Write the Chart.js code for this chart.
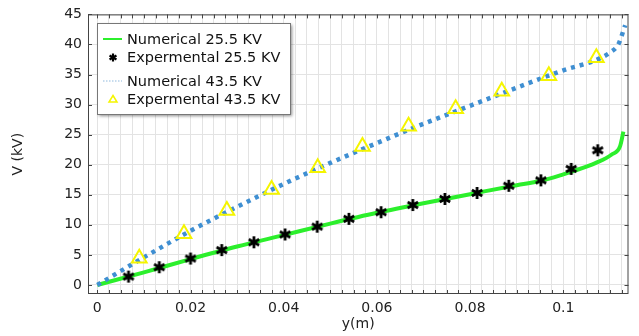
<!DOCTYPE html>
<html>
<head>
<meta charset="utf-8">
<script src="https://cdn.jsdelivr.net/npm/chart.js@4.4.1/dist/chart.umd.min.js"></script>
<style>
html,body{margin:0;padding:0;background:#fff;}
#wrap{position:relative;width:639px;height:336px;}
</style>
</head>
<body>
<div id="wrap"><canvas id="c" width="639" height="336"></canvas></div>
<script>
// Numerical 25.5 KV (curve)
const numY25 = [0, 0.01, 0.02, 0.03, 0.04, 0.05, 0.06, 0.07, 0.08, 0.09, 0.095, 0.1, 0.102, 0.107, 0.1104, 0.1122, 0.1129];
const numV25 = [0, 2.1, 4.3, 6.4, 8.3, 10.2, 12.0, 13.6, 15.1, 16.6, 17.3, 18.4, 18.9, 20.3, 21.7, 23.1, 25.5];
// Experimental 25.5 KV
const expY25 = [0.0067, 0.0133, 0.02, 0.0267, 0.0336, 0.0403, 0.0472, 0.054, 0.0609, 0.0677, 0.0746, 0.0815, 0.0883, 0.0952, 0.1017, 0.1074];
const expV25 = [1.4, 2.95, 4.4, 5.8, 7.1, 8.4, 9.7, 11.0, 12.1, 13.3, 14.3, 15.3, 16.5, 17.4, 19.3, 22.4];
// Numerical 43.5 KV (curve)
const numY43 = [0, 0.01, 0.02, 0.03, 0.04, 0.05, 0.06, 0.07, 0.08, 0.09, 0.1, 0.107, 0.1101, 0.1118, 0.1133];
const numV43 = [0, 4.6, 9.0, 13.0, 16.8, 20.3, 23.6, 26.8, 29.8, 32.8, 35.7, 37.4, 38.7, 40.0, 43.2];
// Experimental 43.5 KV
const expY43 = [0.009, 0.0186, 0.0278, 0.0374, 0.0473, 0.0569, 0.0668, 0.0769, 0.0868, 0.0969, 0.1071];
const expV43 = [4.45, 8.5, 12.4, 15.9, 19.5, 23.05, 26.4, 29.3, 32.2, 34.8, 37.8];
// Axis ticks
const xTickLabels = [0, 0.02, 0.04, 0.06, 0.08, 0.1];
const yTickLabels = [0, 5, 10, 15, 20, 25, 30, 35, 40, 45];
const seriesNames = ['Numerical 25.5 KV', 'Expermental 25.5 KV', 'Numerical 43.5 KV', 'Expermental 43.5 KV'];

const pts = (xs, ys) => xs.map((x, i) => ({x: x, y: ys[i]}));
const FONT = 'DejaVu Sans';
const GREEN = '#2cef2c';
const BLUE = '#3f8fd2';
const YELLOW = '#f5f500';

function drawAsterisk(ctx, cx, cy, r, lw) {
  ctx.save();
  ctx.strokeStyle = '#000';
  ctx.lineWidth = lw;
  ctx.lineCap = 'butt';
  ctx.beginPath();
  for (let k = 0; k < 3; k++) {
    const ang = Math.PI / 2 + k * Math.PI / 3;
    ctx.moveTo(cx + r * Math.cos(ang), cy + r * Math.sin(ang));
    ctx.lineTo(cx - r * Math.cos(ang), cy - r * Math.sin(ang));
  }
  ctx.stroke();
  ctx.restore();
}
const starImg = document.createElement('canvas');
starImg.width = 14; starImg.height = 14;
drawAsterisk(starImg.getContext('2d'), 7, 7, 6, 2.8);

const frame = {
  id: 'frame',
  afterDraw(chart) {
    const ctx = chart.ctx, a = chart.chartArea;
    const xs = chart.scales.x, ys = chart.scales.y;
    ctx.save();
    ctx.strokeStyle = '#444';
    ctx.lineWidth = 1;
    ctx.strokeRect(a.left + 0.5, a.top + 0.5, a.right - a.left - 1, a.bottom - a.top - 1);
    ctx.beginPath();
    xs.ticks.forEach(t => {
      const px = Math.round(xs.getPixelForValue(t.value)) + 0.5;
      ctx.moveTo(px, a.bottom); ctx.lineTo(px, a.bottom - 4);
      ctx.moveTo(px, a.top); ctx.lineTo(px, a.top + 4);
    });
    ys.ticks.forEach(t => {
      const py = Math.round(ys.getPixelForValue(t.value)) + 0.5;
      ctx.moveTo(a.left, py); ctx.lineTo(a.left + 4, py);
      ctx.moveTo(a.right, py); ctx.lineTo(a.right - 4, py);
    });
    ctx.stroke();

    // legend
    const bx = 97, by = 23, bw = 193, bh = 91;
    ctx.save();
    ctx.shadowColor = 'rgba(0,0,0,0.45)';
    ctx.shadowOffsetX = 2; ctx.shadowOffsetY = 2; ctx.shadowBlur = 3;
    ctx.fillStyle = '#fff';
    ctx.fillRect(bx, by, bw, bh);
    ctx.restore();
    ctx.strokeStyle = '#777';
    ctx.strokeRect(bx + 0.5, by + 0.5, bw, bh);
    const rows = [39, 57.5, 81, 99];
    ctx.font = '14.5px "' + FONT + '"';
    ctx.fillStyle = '#111';
    ctx.textBaseline = 'middle';
    rows.forEach((ry, i) => ctx.fillText(seriesNames[i], 127, ry + 1));
    // sample 1: green line
    ctx.strokeStyle = GREEN; ctx.lineWidth = 2;
    ctx.beginPath(); ctx.moveTo(103, rows[0]); ctx.lineTo(122, rows[0]); ctx.stroke();
    // sample 2: asterisk
    drawAsterisk(ctx, 113, rows[1], 4, 2.2);
    // sample 3: thin dotted blue
    ctx.strokeStyle = '#8fb9dd'; ctx.lineWidth = 1; ctx.setLineDash([1.5, 1.5]);
    ctx.beginPath(); ctx.moveTo(103, rows[2]); ctx.lineTo(122, rows[2]); ctx.stroke();
    ctx.setLineDash([]);
    // sample 4: small triangle
    ctx.strokeStyle = YELLOW; ctx.lineWidth = 1.5;
    ctx.beginPath();
    ctx.moveTo(113, rows[3] - 3.5); ctx.lineTo(117, rows[3] + 3); ctx.lineTo(109, rows[3] + 3); ctx.closePath(); ctx.stroke();
    ctx.restore();
  }
};

new Chart(document.getElementById('c'), {
  type: 'scatter',
  data: {
    datasets: [
      {label: seriesNames[3], data: pts(expY43, expV43), pointStyle: 'triangle', pointRadius: 8.5,
       borderColor: YELLOW, backgroundColor: 'rgba(0,0,0,0)', pointBorderWidth: 2, showLine: false},
      {label: seriesNames[1], data: pts(expY25, expV25), pointStyle: starImg, pointRadius: 7,
       borderColor: '#000', backgroundColor: '#000', showLine: false},
      {label: seriesNames[2], data: pts(numY43, numV43), showLine: true, pointRadius: 0,
       borderColor: BLUE, borderWidth: 4.5, borderDash: [4, 5], borderCapStyle: 'butt', cubicInterpolationMode: 'monotone'},
      {label: seriesNames[0], data: pts(numY25, numV25), showLine: true, pointRadius: 0,
       borderColor: GREEN, borderWidth: 4, cubicInterpolationMode: 'monotone'}
    ]
  },
  options: {
    responsive: false,
    animation: false,
    devicePixelRatio: 1,
    layout: {padding: {top: 14, right: 5, left: 0, bottom: 0}},
    plugins: {legend: {display: false}, tooltip: {enabled: false}},
    scales: {
      x: {
        type: 'linear', min: -0.002, max: 0.114,
        afterBuildTicks(s) {
          const t = [];
          for (let k = 0; k * 0.0025 <= 0.114 + 1e-9; k++) t.push({value: +(k * 0.0025).toFixed(4)});
          s.ticks = t;
        },
        afterFit(s) { s.height = 42; },
        ticks: {
          autoSkip: false, maxRotation: 0, padding: 6, color: '#222',
          font: {family: FONT, size: 14},
          callback(v) {
            const m = xTickLabels.find(q => Math.abs(q - v) < 1e-7);
            return m === undefined ? '' : String(m);
          }
        },
        grid: {color: '#e3e3e3', drawTicks: false},
        border: {display: false},
        title: {display: true, text: 'y(m)', color: '#222', font: {family: FONT, size: 14}, padding: {top: 0, bottom: 3}}
      },
      y: {
        type: 'linear', min: -1.5, max: 45,
        afterBuildTicks(s) { s.ticks = yTickLabels.map(v => ({value: v})); },
        afterFit(s) { s.width = 88; },
        ticks: {padding: 6, color: '#222', font: {family: FONT, size: 14}},
        grid: {color: '#e3e3e3', drawTicks: false},
        border: {display: false},
        title: {display: true, text: 'V (kV)', color: '#222', font: {family: FONT, size: 14}, padding: {top: 10, bottom: 0}}
      }
    }
  },
  plugins: [frame]
});
</script>
</body>
</html>
